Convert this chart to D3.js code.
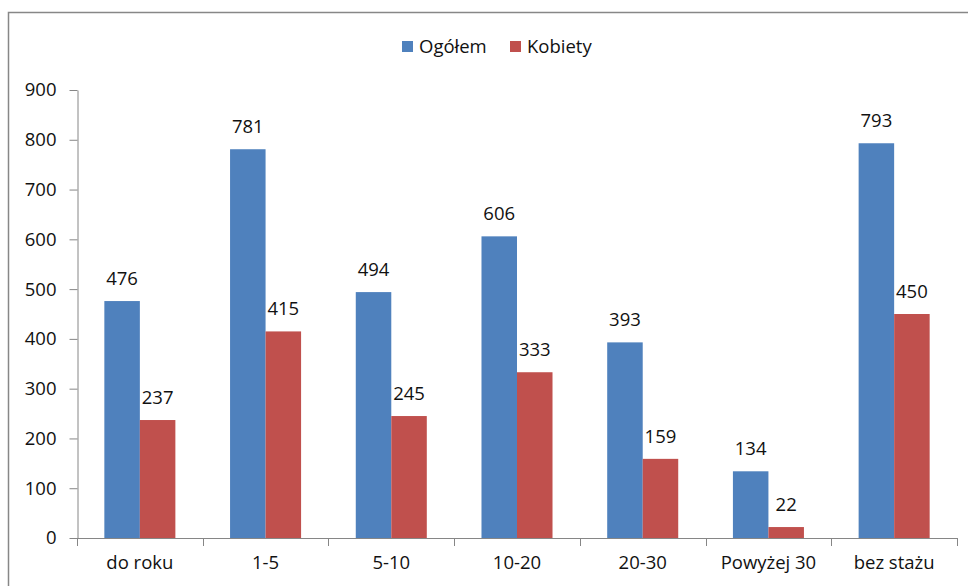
<!DOCTYPE html>
<html>
<head>
<meta charset="utf-8">
<script src="https://cdn.jsdelivr.net/npm/d3@7"></script>
<style>
	body { margin: 0; background: #fff; }
	svg { display: block; }
</style>
</head>
<body>
<svg id="chart"></svg>
<script>
const categories = ['do roku', '1-5', '5-10', '10-20', '20-30', 'Powyżej 30', 'bez stażu'];
const seriesNames = ['Ogółem', 'Kobiety'];
const ogolem = [476, 781, 494, 606, 393, 134, 793];
const kobiety = [237, 415, 245, 333, 159, 22, 450];
const yTicks = [0, 100, 200, 300, 400, 500, 600, 700, 800, 900];

const colors = ['#4F81BD', '#C0504D'];
const width = 968;
const height = 586;
const font = '"Open Sans", "Liberation Sans", sans-serif';
const fontSize = 18.5;

const data = categories.map((c, i) => ({ cat: c, values: [ogolem[i], kobiety[i]] }));

const svg = d3.select('#chart').attr('width', width).attr('height', height);

// chart border (right and bottom are off-canvas)
svg.append('rect')
	.attr('x', 8.5).attr('y', 12.5)
	.attr('width', 980).attr('height', 600)
	.attr('fill', 'none').attr('stroke', '#878787').attr('stroke-width', 1.5);

const x0 = d3.scaleBand().domain(categories).range([77, 957]);
const x1 = d3.scaleBand().domain(seriesNames).range([0, x0.bandwidth()]).paddingInner(0).paddingOuter(0.77);
const y = d3.scaleLinear().domain([0, 900]).range([538, 90]);

// y axis
svg.append('g')
	.attr('transform', 'translate(77.5,0)')
	.call(d3.axisLeft(y).tickValues(yTicks).tickSize(8).tickSizeOuter(0).tickPadding(13))
	.call((g) => g.selectAll('line, path').attr('stroke', '#868686'))
	.call((g) => g.selectAll('text').attr('font-family', font).attr('font-size', fontSize).attr('fill', '#111'));

// bars
const groups = svg.append('g')
	.selectAll('g')
	.data(data)
	.join('g')
	.attr('transform', (d) => `translate(${x0(d.cat)},0)`);

groups.selectAll('rect')
	.data((d) => d.values.map((v, i) => ({ key: seriesNames[i], v, i })))
	.join('rect')
	.attr('x', (d) => x1(d.key))
	.attr('y', (d) => y(d.v))
	.attr('width', x1.bandwidth())
	.attr('height', (d) => y(0) - y(d.v))
	.attr('fill', (d) => colors[d.i]);

groups.selectAll('text')
	.data((d) => d.values.map((v, i) => ({ key: seriesNames[i], v, i })))
	.join('text')
	.attr('x', (d) => x1(d.key) + x1.bandwidth() / 2)
	.attr('y', (d) => y(d.v) - 16)
	.attr('text-anchor', 'middle')
	.attr('font-family', font)
	.attr('font-size', fontSize)
	.attr('fill', '#111')
	.text((d) => d.v);

// x axis
const xAxis = svg.append('g');
xAxis.append('line')
	.attr('x1', 77).attr('x2', 957)
	.attr('y1', y(0) + 0.5).attr('y2', y(0) + 0.5)
	.attr('stroke', '#868686');
xAxis.selectAll('.tk')
	.data(categories.map((c) => x0(c)).concat([x0.range()[1]]))
	.join('line')
	.attr('class', 'tk')
	.attr('x1', (d) => Math.round(d) + 0.5).attr('x2', (d) => Math.round(d) + 0.5)
	.attr('y1', y(0)).attr('y2', y(0) + 8)
	.attr('stroke', '#868686');
xAxis.selectAll('text')
	.data(categories)
	.join('text')
	.attr('x', (d) => x0(d) + x0.bandwidth() / 2)
	.attr('y', y(0) + 31)
	.attr('text-anchor', 'middle')
	.attr('font-family', font)
	.attr('font-size', fontSize)
	.attr('fill', '#111')
	.text((d) => d);

// legend
const legendX = [402, 510];
const legend = svg.append('g')
	.selectAll('g')
	.data(seriesNames)
	.join('g')
	.attr('transform', (d, i) => `translate(${legendX[i]},41)`);
legend.append('rect')
	.attr('width', 11).attr('height', 11)
	.attr('fill', (d, i) => colors[i]);
legend.append('text')
	.attr('x', 17).attr('y', 12)
	.attr('font-family', font)
	.attr('font-size', fontSize)
	.attr('fill', '#111')
	.text((d) => d);
</script>
</body>
</html>
